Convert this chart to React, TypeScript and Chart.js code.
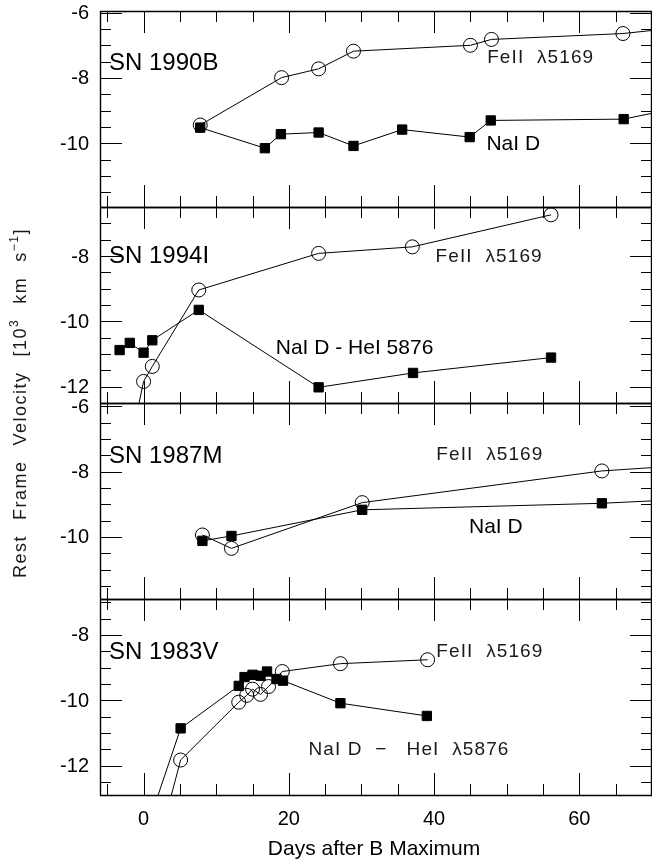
import React, { useEffect, useRef } from 'react';
import { Chart, registerables } from 'chart.js';

Chart.register(...registerables);

// ---------- axes ----------
const X_MIN = -6;
const X_MAX = 70;
const X_TICK_LABELS = [0, 20, 40, 60];
const X_MAJOR_STEP = 20;
const X_MINOR_STEP = 5;
const Y_MAJOR_STEP = 2;
const Y_MINOR_STEP = 0.5;

const PANEL_NAMES = ['SN 1990B', 'SN 1994I', 'SN 1987M', 'SN 1983V'];
const PANEL_Y_MIN = [-11.95, -12.5, -11.9, -12.9];
const PANEL_Y_MAX = [-5.95, -6.5, -5.9, -6.9];
const PANEL_Y_TICK_LABELS = [
  [-6, -8, -10],
  [-8, -10, -12],
  [-6, -8, -10],
  [-8, -10, -12],
];

// ---------- data (days after B max, velocity in 10^3 km/s) ----------
// SN 1990B
const DAYS_1990B_FE = [7.8, 19.0, 24.1, 28.9, 45.0, 47.9, 66.0, 80];
const VEL_1990B_FE = [-9.44, -7.99, -7.72, -7.18, -7.0, -6.82, -6.64, -6.31];
const DAYS_1990B_NA = [7.8, 16.7, 18.9, 24.1, 28.9, 35.6, 44.9, 47.8, 66.1, 80];
const VEL_1990B_NA = [-9.52, -10.15, -9.72, -9.67, -10.08, -9.58, -9.81, -9.3, -9.26, -8.62];

// SN 1994I
const DAYS_1994I_FE = [-1.0, 0.0, 1.2, 7.6, 24.1, 37.0, 56.1];
const VEL_1994I_FE = [-12.9, -11.84, -11.38, -9.04, -7.92, -7.72, -6.74];
const DAYS_1994I_NA = [-3.3, -1.9, 0.0, 1.2, 7.6, 24.1, 37.1, 56.1];
const VEL_1994I_NA = [-10.88, -10.66, -10.96, -10.58, -9.65, -12.02, -11.58, -11.11];

// SN 1987M
const DAYS_1987M_FE = [8.1, 12.1, 30.1, 63.1, 80];
const VEL_1987M_FE = [-9.94, -10.35, -8.95, -7.98, -7.73];
const DAYS_1987M_NA = [8.1, 12.1, 30.1, 63.1, 80];
const VEL_1987M_NA = [-10.12, -9.97, -9.17, -8.97, -8.79];

// SN 1983V
const DAYS_1983V_FE = [2.0, 5.1, 13.1, 14.2, 15.0, 16.1, 17.2, 19.1, 27.1, 39.1];
const VEL_1983V_FE = [-14.44, -11.83, -10.06, -9.85, -9.66, -9.82, -9.58, -9.12, -8.88, -8.76];
const DAYS_1983V_NA = [0.0, 5.1, 13.1, 13.9, 15.0, 16.1, 17.0, 18.3, 19.2, 27.1, 39.0];
const VEL_1983V_NA = [-14.22, -10.86, -9.56, -9.29, -9.22, -9.25, -9.12, -9.35, -9.4, -10.09, -10.48];

const FE_DAYS = [DAYS_1990B_FE, DAYS_1994I_FE, DAYS_1987M_FE, DAYS_1983V_FE];
const FE_VEL = [VEL_1990B_FE, VEL_1994I_FE, VEL_1987M_FE, VEL_1983V_FE];
const NA_DAYS = [DAYS_1990B_NA, DAYS_1994I_NA, DAYS_1987M_NA, DAYS_1983V_NA];
const NA_VEL = [VEL_1990B_NA, VEL_1994I_NA, VEL_1987M_NA, VEL_1983V_NA];

// ---------- text labels (anchored in data coordinates, left / middle) ----------
const PANEL_NAME_X = [-4.76, -4.76, -4.76, -4.76];
const PANEL_NAME_Y = [-7.56, -8.02, -7.52, -8.52];

const NOTE_TEXT = [
  'FeII  λ5169', 'NaI D',
  'FeII  λ5169', 'NaI D - HeI 5876',
  'FeII  λ5169', 'NaI D',
  'FeII  λ5169', 'NaI D  −   HeI  λ5876',
];
const NOTE_PANEL = [0, 0, 1, 1, 2, 2, 3, 3];
const NOTE_X = [47.3, 47.2, 40.2, 18.2, 40.3, 44.8, 40.3, 22.7];
const NOTE_Y = [-7.38, -10.02, -8.02, -10.82, -7.47, -9.69, -8.51, -11.51];
const NOTE_THIN = [true, false, true, false, true, false, true, true];

const X_TITLE = 'Days after B Maximum';

const FONT = '"Liberation Sans", Arial, Helvetica, sans-serif';

const panelIds = [0, 1, 2, 3].map((i) => 'y' + (i + 1));

const panelClip = {
  id: 'panelClip',
  beforeDatasetDraw(chart: any, args: any) {
    const ys = args.meta.yScale;
    const a = chart.chartArea;
    const ctx = chart.ctx;
    ctx.save();
    ctx.beginPath();
    ctx.rect(a.left, ys.top, a.right - a.left, ys.bottom - ys.top);
    ctx.clip();
  },
  afterDatasetDraw(chart: any) {
    chart.ctx.restore();
  },
};

function setSpacing(ctx: any, px: number) {
  if ('letterSpacing' in ctx) ctx.letterSpacing = px + 'px';
}

const decorations = {
  id: 'decorations',
  afterDraw(chart: any) {
    const ctx = chart.ctx as CanvasRenderingContext2D;
    const a = chart.chartArea;
    const xs = chart.scales.x;
    ctx.save();
    ctx.strokeStyle = '#000';
    ctx.fillStyle = '#000';

    const xMinorK0 = Math.ceil(X_MIN / X_MINOR_STEP);
    const xMinorK1 = Math.floor(X_MAX / X_MINOR_STEP);
    const ratioX = X_MAJOR_STEP / X_MINOR_STEP;
    const ratioY = Y_MAJOR_STEP / Y_MINOR_STEP;
    const MAJ = 22;
    const MIN = 11;

    panelIds.forEach((id, p) => {
      const ys = chart.scales[id];
      const top = ys.top;
      const bottom = ys.bottom;
      // ticks
      ctx.lineWidth = 1;
      ctx.beginPath();
      for (let k = xMinorK0; k <= xMinorK1; k++) {
        const v = k * X_MINOR_STEP;
        const px = Math.round(xs.getPixelForValue(v)) + 0.5;
        const len = k % ratioX === 0 ? MAJ : MIN;
        ctx.moveTo(px, top);
        ctx.lineTo(px, top + len);
        ctx.moveTo(px, bottom);
        ctx.lineTo(px, bottom - len);
      }
      const k0 = Math.ceil(PANEL_Y_MIN[p] / Y_MINOR_STEP);
      const k1 = Math.floor(PANEL_Y_MAX[p] / Y_MINOR_STEP);
      for (let k = k0; k <= k1; k++) {
        const v = k * Y_MINOR_STEP;
        const py = Math.round(ys.getPixelForValue(v)) + 0.5;
        const len = k % ratioY === 0 ? MAJ : MIN;
        ctx.moveTo(a.left, py);
        ctx.lineTo(a.left + len, py);
        ctx.moveTo(a.right, py);
        ctx.lineTo(a.right - len, py);
      }
      ctx.stroke();

      // frame
      ctx.lineWidth = 1.6;
      ctx.beginPath();
      ctx.moveTo(a.left, Math.round(top) + 0.5);
      ctx.lineTo(a.right, Math.round(top) + 0.5);
      ctx.moveTo(a.left, Math.round(bottom) + 0.5);
      ctx.lineTo(a.right, Math.round(bottom) + 0.5);
      ctx.stroke();

      // y tick labels
      ctx.font = `20px ${FONT}`;
      setSpacing(ctx, 0);
      ctx.textAlign = 'right';
      ctx.textBaseline = 'middle';
      PANEL_Y_TICK_LABELS[p].forEach((v) => {
        ctx.fillText(String(v), a.left - 11, ys.getPixelForValue(v) + 1);
      });

      // panel name
      ctx.font = `24px ${FONT}`;
      ctx.textAlign = 'left';
      ctx.fillText(PANEL_NAMES[p], xs.getPixelForValue(PANEL_NAME_X[p]), ys.getPixelForValue(PANEL_NAME_Y[p]));
    });

    // left / right axis lines
    ctx.lineWidth = 1.4;
    ctx.beginPath();
    ctx.moveTo(Math.round(a.left) + 0.5, a.top);
    ctx.lineTo(Math.round(a.left) + 0.5, a.bottom);
    ctx.moveTo(Math.round(a.right) - 0.5, a.top);
    ctx.lineTo(Math.round(a.right) - 0.5, a.bottom);
    ctx.stroke();

    // notes
    ctx.textAlign = 'left';
    ctx.textBaseline = 'middle';
    NOTE_TEXT.forEach((t, i) => {
      const ys = chart.scales[panelIds[NOTE_PANEL[i]]];
      if (NOTE_THIN[i]) {
        ctx.font = `19px ${FONT}`;
        ctx.fillStyle = '#1a1a1a';
        setSpacing(ctx, 1.1);
      } else {
        ctx.font = `21px ${FONT}`;
        ctx.fillStyle = '#000';
        setSpacing(ctx, 0);
      }
      ctx.fillText(t, xs.getPixelForValue(NOTE_X[i]), ys.getPixelForValue(NOTE_Y[i]));
    });
    setSpacing(ctx, 0);
    ctx.fillStyle = '#000';

    // x tick labels
    ctx.font = `20px ${FONT}`;
    ctx.textAlign = 'center';
    ctx.textBaseline = 'middle';
    X_TICK_LABELS.forEach((v) => {
      ctx.fillText(String(v), xs.getPixelForValue(v), a.bottom + 24);
    });

    // x title
    ctx.font = `21px ${FONT}`;
    ctx.textBaseline = 'alphabetic';
    ctx.fillText(X_TITLE, (a.left + a.right) / 2 - 2, a.bottom + 60);

    // y title (rotated, with superscripts)
    const segs: any[] = [
      { t: 'Rest' }, { g: 1 }, { t: 'Frame' }, { g: 1 }, { t: 'Velocity' }, { g: 1 },
      { t: '[10' }, { t: '3', s: 1 }, { g: 1 }, { t: 'km' }, { g: 1 }, { t: 's' }, { t: '−1', s: 1 }, { t: ']' },
    ];
    const GAP = 15;
    const mainFont = `18px ${FONT}`;
    const supFont = `12px ${FONT}`;
    ctx.fillStyle = '#1a1a1a';
    setSpacing(ctx, 1.5);
    let total = 0;
    segs.forEach((s) => {
      if (s.g) { total += GAP; return; }
      ctx.font = s.s ? supFont : mainFont;
      s.w = ctx.measureText(s.t).width;
      total += s.w;
    });
    const cy = (a.top + a.bottom) / 2;
    ctx.translate(25.5, cy);
    ctx.rotate(-Math.PI / 2);
    ctx.textAlign = 'left';
    let cx = -total / 2;
    segs.forEach((s) => {
      if (s.g) { cx += GAP; return; }
      ctx.font = s.s ? supFont : mainFont;
      ctx.fillText(s.t, cx, s.s ? -8 : 0);
      cx += s.w;
    });
    ctx.restore();
  },
};

export default function App() {
  const ref = useRef<HTMLCanvasElement | null>(null);

  useEffect(() => {
    const canvas = ref.current;
    if (!canvas) return;

    const datasets: any[] = [];
    for (let p = 0; p < 4; p++) {
      datasets.push({
        label: PANEL_NAMES[p] + ' FeII',
        data: FE_DAYS[p].map((d, i) => ({ x: d, y: FE_VEL[p][i] })),
        yAxisID: panelIds[p],
        borderColor: '#000',
        borderWidth: 1,
        pointStyle: 'circle',
        pointRadius: 7,
        pointBorderWidth: 1,
        pointBorderColor: '#000',
        pointBackgroundColor: 'rgba(0,0,0,0)',
        tension: 0,
        fill: false,
        clip: false,
      });
      datasets.push({
        label: PANEL_NAMES[p] + ' NaI',
        data: NA_DAYS[p].map((d, i) => ({ x: d, y: NA_VEL[p][i] })),
        yAxisID: panelIds[p],
        borderColor: '#000',
        borderWidth: 1,
        pointStyle: 'rect',
        pointRadius: 6.6,
        pointBorderWidth: 1,
        pointBorderColor: '#000',
        pointBackgroundColor: '#000',
        tension: 0,
        fill: false,
        clip: false,
      });
    }

    const scales: any = {
      x: { type: 'linear', min: X_MIN, max: X_MAX, display: false },
    };
    panelIds.forEach((id, p) => {
      scales[id] = {
        type: 'linear',
        min: PANEL_Y_MIN[p],
        max: PANEL_Y_MAX[p],
        display: false,
        position: 'left',
        stack: 'panels',
        stackWeight: 1,
        weight: 4 - p,
      };
    });

    const chart = new Chart(canvas, {
      type: 'line',
      data: { datasets },
      options: {
        animation: false,
        responsive: false,
        maintainAspectRatio: false,
        events: [],
        layout: { padding: { left: 100, top: 11, right: 6, bottom: 64 } },
        plugins: { legend: { display: false }, tooltip: { enabled: false } },
        scales,
      } as any,
      plugins: [panelClip, decorations],
    });
    return () => chart.destroy();
  }, []);

  return (
    <div style={{ position: 'fixed', left: 0, top: 0, width: 652, height: 859, overflow: 'hidden', background: '#fff' }}>
      <canvas ref={ref} width={660} height={859} style={{ display: 'block', width: 660, height: 859 }} />
    </div>
  );
}
